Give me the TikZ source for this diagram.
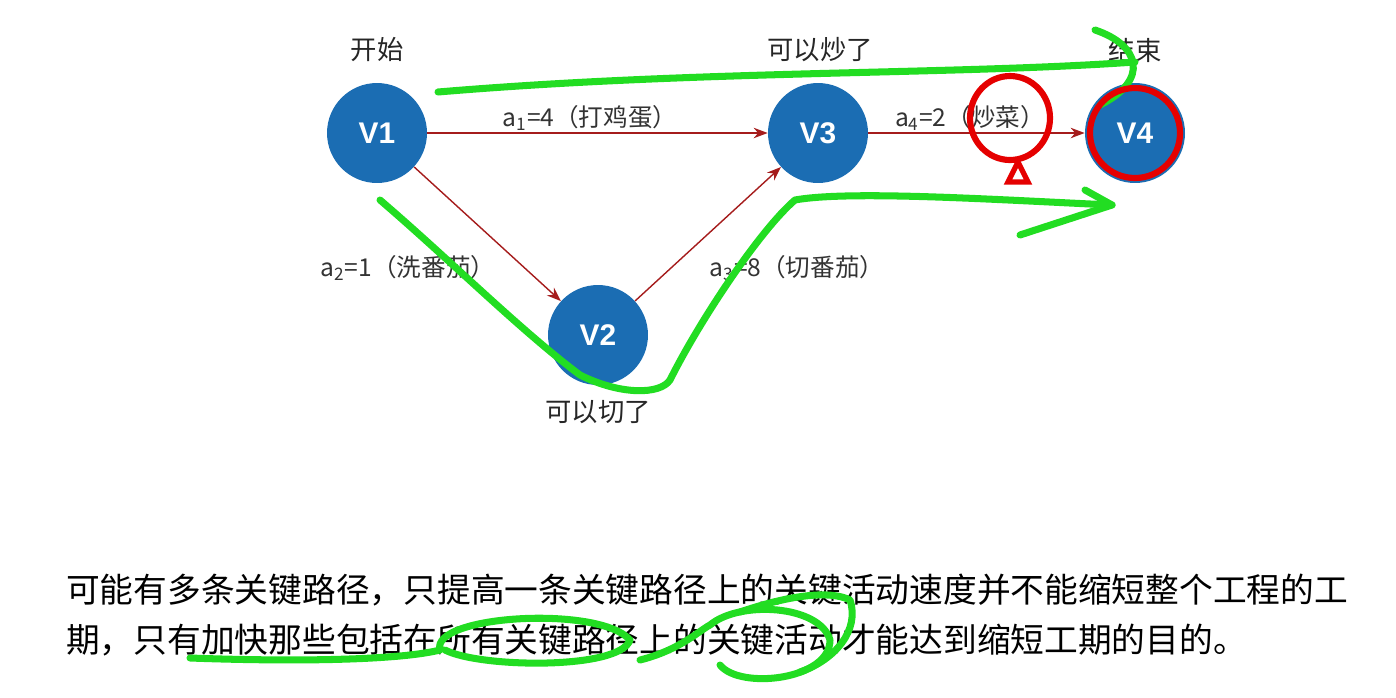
\documentclass[tikz,border=0pt]{standalone}
\usepackage{fontspec}
\setmainfont{Noto Sans CJK SC}
\newfontfamily\latinsans{Liberation Sans}
\usetikzlibrary{arrows.meta}
\definecolor{vblue}{HTML}{1B6DB3}
\definecolor{edgered}{HTML}{A51C1C}
\definecolor{penGreen}{HTML}{22DD22}
\begin{document}
\begin{tikzpicture}[x=0.02cm, y=-0.02cm,
    vertex/.style={circle, fill=vblue, minimum size=2cm, text=white, font=\latinsans\bfseries\fontsize{17}{17}\selectfont},
    lab/.style={font=\fontsize{15}{15}\selectfont, text=black!85},
    act/.style={font=\fontsize{14}{14}\selectfont, text=black!80},
    edge/.style={edgered, -{Stealth[length=8pt]}, line width=0.8pt},
    stroke/.style={penGreen, line width=4pt, line cap=round, line join=round}]
  \useasboundingbox (0,0) rectangle (1396,697);
  \node[vertex] (v1) at (377,133) {V1};
  \node[vertex] (v2) at (598,335) {V2};
  \node[vertex] (v3) at (818,133) {V3};
  \node[vertex] (v4) at (1135,133) {V4};

  \node[lab] (l1) at (377,50) {开始};
  \node[lab] (l3) at (820,50) {可以炒了};
  \node[lab] (l4) at (1135,50) {结束};
  \node[lab] (l2) at (598,412) {可以切了};

  \draw[edge] (v1) -- (v3);
  \draw[edge] (v1) -- (v2);
  \draw[edge] (v2) -- (v3);
  \draw[edge] (v3) -- (v4);

  \node[act] (a1) at (590,118) {\textit{a}\textsubscript{1}=4（打鸡蛋）};
  \node[act] (a2) at (408,268) {\textit{a}\textsubscript{2}=1（洗番茄）};
  \node[act] (a3) at (797,268) {\textit{a}\textsubscript{3}=8（切番茄）};
  \node[act] (a4) at (970,118) {\textit{a}\textsubscript{4}=2（炒菜）};

  \node[anchor=west, font=\fontsize{19.2}{19.2}\selectfont] (t1) at (60,590)
    {可能有多条关键路径，只提高一条关键路径上的关键活动速度并不能缩短整个工程的工};
  \node[anchor=west, font=\fontsize{19.2}{19.2}\selectfont] (t2) at (60,640)
    {期，只有加快那些包括在所有关键路径上的关键活动才能达到缩短工期的目的。};

  % hand marks
  \draw[stroke] (438,92) .. controls (700,70) and (950,75) .. (1135,62);
  \draw[stroke] (1095,30) .. controls (1140,45) and (1150,80) .. (1100,105);
  \draw[stroke] (380,200) .. controls (450,260) and (520,330) .. (580,375)
    .. controls (620,395) and (660,395) .. (670,380)
    .. controls (700,320) and (760,230) .. (795,200)
    .. controls (850,190) and (1000,200) .. (1112,205);
  \draw[stroke] (1085,190) -- (1112,205) -- (1020,235);
  \draw[stroke] (190,658) .. controls (300,662) and (400,660) .. (440,650)
    .. controls (430,615) and (600,605) .. (630,640)
    .. controls (620,670) and (480,668) .. (445,650);
  \draw[stroke] (640,660) .. controls (680,650) and (700,630) .. (710,625)
    .. controls (740,600) and (820,605) .. (830,640)
    .. controls (830,680) and (740,690) .. (720,665);
  \draw[stroke] (740,612) .. controls (790,595) and (830,590) .. (850,600)
    .. controls (860,630) and (835,660) .. (800,672);
  \draw[red!90!black, line width=3.5pt] (1010,118) ellipse (40 and 42);
  \draw[red!90!black, line width=3pt] (1018,162) -- (1008,182) -- (1028,182) -- cycle;
  \draw[red!90!black, line width=3.5pt] (1135,133) circle (45);
\end{tikzpicture}
\end{document}
